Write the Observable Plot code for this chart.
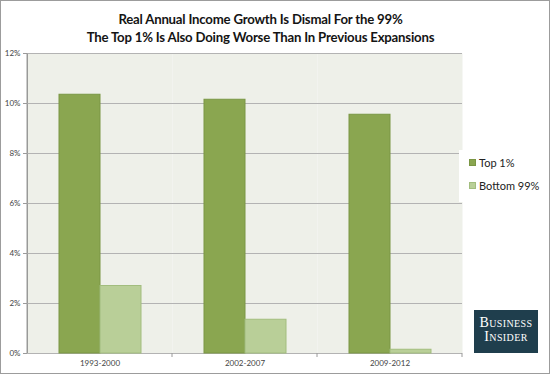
<!DOCTYPE html>
<html>
<head>
<meta charset="utf-8">
<script src="https://cdn.jsdelivr.net/npm/d3@7"></script>
<script src="https://cdn.jsdelivr.net/npm/@observablehq/plot@0.6"></script>
<style>
  html, body { margin: 0; padding: 0; background: #fff; }
  #wrap { position: relative; width: 550px; height: 374px; overflow: hidden; background: #fff; font-family: Lato, "Open Sans", sans-serif; }
  #border { position: absolute; left: 0; top: 0; width: 550px; height: 374px; box-sizing: border-box; border: 1px solid #9c9c9c; pointer-events: none; }
  #title { position: absolute; left: 0; top: 10px; width: 521px; text-align: center; font-weight: bold; font-size: 13.2px; letter-spacing: -0.2px; line-height: 18px; color: #141414; }
  #chart { position: absolute; left: 0; top: 46px; }
  #legend { position: absolute; left: 459px; top: 150px; width: 86px; height: 52px; background: #fff; font-size: 11px; color: #222; }
  .item { position: absolute; left: 10px; height: 14px; line-height: 14px; }
  .sw { display: inline-block; width: 7px; height: 7px; margin-right: 3px; vertical-align: 1px; box-sizing: border-box; }
  #logo { position: absolute; left: 474px; top: 310px; width: 64px; height: 43px; background: #1f3e4d; color: #fff; font-family: "Liberation Serif", "DejaVu Serif", serif; font-variant: small-caps; text-align: center; font-size: 14px; line-height: 14px; padding-top: 6px; box-sizing: border-box; letter-spacing: 0.4px; }
</style>
</head>
<body>
<div id="wrap">
  <div id="title">Real Annual Income Growth Is Dismal For the 99%<br>The Top 1% Is Also Doing Worse Than In Previous Expansions</div>
  <div id="chart"></div>
  <div id="legend"></div>
  <div id="logo">Business<br>Insider</div>
  <div id="border"></div>
</div>
<script>
const periods = ["1993-2000", "2002-2007", "2009-2012"];
const seriesNames = ["Top 1%", "Bottom 99%"];
const top1 = [10.35, 10.15, 9.55];
const bottom99 = [2.7, 1.35, 0.15];
const yTicks = [0, 2, 4, 6, 8, 10, 12];

const fills = {"Top 1%": "#8aa650", "Bottom 99%": "#b9cf98"};
const strokes = {"Top 1%": "#7a9644", "Bottom 99%": "#a2bd7e"};

const data = periods.flatMap((p, i) => [
  {period: p, series: seriesNames[0], value: top1[i]},
  {period: p, series: seriesNames[1], value: bottom99[i]}
]);

const chart = Plot.plot({
  width: 550,
  height: 328,
  marginLeft: 26,
  marginRight: 87,
  marginTop: 7,
  marginBottom: 21,
  style: {fontFamily: "Lato, sans-serif", fontSize: "8px", color: "#444", background: "transparent", overflow: "visible"},
  fx: {domain: periods, padding: 0, label: null, tickSize: 0, tickPadding: 7},
  x: {domain: seriesNames, paddingInner: 0, paddingOuter: 0.75, axis: null},
  y: {domain: [0, 12], ticks: yTicks, tickFormat: d => d + "%", tickSize: 4, tickPadding: 3, label: null, line: true},
  marks: [
    Plot.frame({fill: "#eef0e9", stroke: null}),
    Plot.ruleY(yTicks, {stroke: "#b3b3b3", strokeWidth: 1}),
    Plot.barY(data.filter(d => d.series === seriesNames[0]), {fx: "period", x: "series", y: "value", fill: fills[seriesNames[0]], stroke: strokes[seriesNames[0]], strokeWidth: 1}),
    Plot.barY(data.filter(d => d.series === seriesNames[1]), {fx: "period", x: "series", y: "value", fill: fills[seriesNames[1]], stroke: strokes[seriesNames[1]], strokeWidth: 1})
  ]
});
document.getElementById("chart").appendChild(chart);

// y-axis line & category boundary ticks, from the library's own scales
const svg = d3.select(chart);
svg.selectAll("[aria-label='y-axis tick'] path, [aria-label='y-axis tick'] line").attr("stroke", "#9a9a9a");
const fx = chart.scale("fx");
const y = chart.scale("y");
const y0 = y.apply(0);
const bounds = periods.map(p => fx.apply(p)).concat([fx.apply(periods[periods.length - 1]) + fx.bandwidth]);
svg.append("g").selectAll("line").data(bounds.slice(1)).join("line")
  .attr("x1", d => d).attr("x2", d => d).attr("y1", y0).attr("y2", y0 + 4)
  .attr("stroke", "#9a9a9a");
svg.append("line").attr("x1", bounds[0]).attr("x2", bounds[0])
  .attr("y1", y.apply(12)).attr("y2", y0).attr("stroke", "#9a9a9a");

// legend
const legend = d3.select("#legend");
seriesNames.forEach((s, i) => {
  const it = legend.append("div").attr("class", "item").style("top", (6 + i * 23) + "px");
  it.append("span").attr("class", "sw").style("background", fills[s]).style("border", "1px solid " + strokes[s]);
  it.append("span").text(s);
});
</script>
</body>
</html>
